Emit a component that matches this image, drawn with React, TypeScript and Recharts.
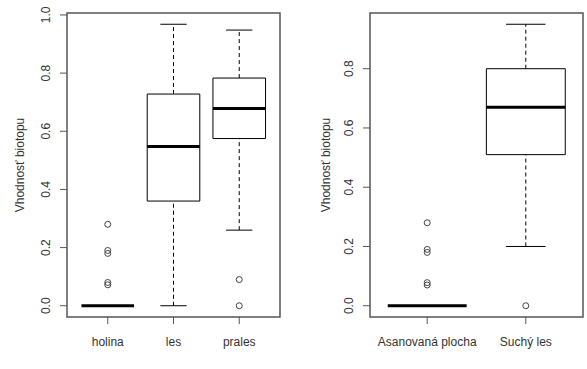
import { ComposedChart, Customized, ReferenceArea, ReferenceLine, Scatter, XAxis, YAxis } from "recharts";

// left panel: habitat type
const habitatNames = ["holina", "les", "prales"];
const habitatMin = [0, 0, 0.26];
const habitatQ1 = [0, 0.36, 0.575];
const habitatMedian = [0, 0.548, 0.678];
const habitatQ3 = [0, 0.728, 0.783];
const habitatMax = [0, 0.968, 0.948];
const habitatOutliers = [[0.28, 0.19, 0.18, 0.08, 0.072], [], [0.09, 0]];
const habitatTicks = [0, 0.2, 0.4, 0.6, 0.8, 1.0];

// right panel: stand type
const standNames = ["Asanovaná plocha", "Suchý les"];
const standMin = [0, 0.2];
const standQ1 = [0, 0.51];
const standMedian = [0, 0.67];
const standQ3 = [0, 0.8];
const standMax = [0, 0.95];
const standOutliers = [[0.28, 0.19, 0.18, 0.078, 0.07], [0]];
const standTicks = [0, 0.2, 0.4, 0.6, 0.8];

const yLabel = "Vhodnosť biotopu";
const textColor = "#333";
const frameColor = "#555";

interface BoxPanelProps {
   names: string[];
   min: number[];
   q1: number[];
   median: number[];
   q3: number[];
   max: number[];
   outliers: number[][];
   yTicks: number[];
   width: number;
   yAxisWidth: number;
   rightMargin: number;
   labelX: number;
}

function BoxPanel({ names, min, q1, median, q3, max, outliers, yTicks, width, yAxisWidth, rightMargin, labelX }: BoxPanelProps) {
   const n = names.length;
   const values = [...min, ...max, ...outliers.flat()];
   const lo = Math.min(...values);
   const hi = Math.max(...values);
   const pad = (hi - lo) * 0.04;
   const yDomain = [lo - pad, hi + pad];
   const xDomain = [0.5 - 0.04 * n, n + 0.5 + 0.04 * n];
   const points = outliers.flatMap((vals, i) => vals.map((v) => ({ x: i + 1, y: v })));

   const boxes = names.map((_, i) => (
      <ReferenceArea
         key={`box-${i}`}
         x1={i + 1 - 0.4}
         x2={i + 1 + 0.4}
         y1={q1[i]}
         y2={q3[i]}
         fill="#fff"
         fillOpacity={1}
         stroke="#000"
         strokeWidth={1}
         ifOverflow="visible"
      />
   ));
   const upperWhiskers = names.map((_, i) => (
      <ReferenceLine
         key={`uw-${i}`}
         segment={[{ x: i + 1, y: q3[i] }, { x: i + 1, y: max[i] }]}
         stroke="#000"
         strokeDasharray="4 3"
         ifOverflow="visible"
      />
   ));
   const lowerWhiskers = names.map((_, i) => (
      <ReferenceLine
         key={`lw-${i}`}
         segment={[{ x: i + 1, y: min[i] }, { x: i + 1, y: q1[i] }]}
         stroke="#000"
         strokeDasharray="4 3"
         ifOverflow="visible"
      />
   ));
   const upperCaps = names.map((_, i) => (
      <ReferenceLine
         key={`uc-${i}`}
         segment={[{ x: i + 1 - 0.2, y: max[i] }, { x: i + 1 + 0.2, y: max[i] }]}
         stroke="#000"
         ifOverflow="visible"
      />
   ));
   const lowerCaps = names.map((_, i) => (
      <ReferenceLine
         key={`lc-${i}`}
         segment={[{ x: i + 1 - 0.2, y: min[i] }, { x: i + 1 + 0.2, y: min[i] }]}
         stroke="#000"
         ifOverflow="visible"
      />
   ));
   const medians = names.map((_, i) => (
      <ReferenceLine
         key={`med-${i}`}
         segment={[{ x: i + 1 - 0.4, y: median[i] }, { x: i + 1 + 0.4, y: median[i] }]}
         stroke="#000"
         strokeWidth={3}
         ifOverflow="visible"
      />
   ));

   const renderYTick = (props: any) => {
      const { x, y, payload } = props;
      return (
         <text x={x} y={y} transform={`rotate(-90, ${x}, ${y})`} textAnchor="middle" fill={textColor} fontSize={12}>
            {Number(payload.value).toFixed(1)}
         </text>
      );
   };

   const AxisTitle = () => (
      <text x={labelX} y={165} transform={`rotate(-90, ${labelX}, 165)`} textAnchor="middle" fill={textColor} fontSize={12}>
         {yLabel}
      </text>
   );

   return (
      <ComposedChart width={width} height={369} margin={{ top: 13, right: rightMargin, bottom: 12, left: 0 }}>
         <XAxis
            type="number"
            dataKey="x"
            domain={xDomain}
            ticks={names.map((_, i) => i + 1)}
            tickFormatter={(v: number) => names[v - 1]}
            interval={0}
            allowDataOverflow
            axisLine={false}
            tickSize={7}
            tickMargin={13}
            tickLine={{ stroke: frameColor }}
            tick={{ fill: textColor, fontSize: 12 }}
            height={40}
         />
         <YAxis
            type="number"
            dataKey="y"
            domain={yDomain}
            ticks={yTicks}
            interval={0}
            allowDataOverflow
            axisLine={false}
            tickSize={7}
            tickMargin={10}
            tickLine={{ stroke: frameColor }}
            tick={renderYTick}
            width={yAxisWidth}
         />
         <ReferenceArea
            x1={xDomain[0]}
            x2={xDomain[1]}
            y1={yDomain[0]}
            y2={yDomain[1]}
            fill="none"
            stroke={frameColor}
            strokeWidth={1.5}
            ifOverflow="visible"
         />
         {upperWhiskers}
         {lowerWhiskers}
         {boxes}
         {upperCaps}
         {lowerCaps}
         {medians}
         <Scatter
            data={points}
            isAnimationActive={false}
            shape={(p: any) => <circle cx={p.cx} cy={p.cy} r={3} fill="none" stroke="#444" strokeWidth={1} />}
         />
         <Customized component={AxisTitle} />
      </ComposedChart>
   );
}

export default function App() {
   return (
      <div
         style={{
            position: "absolute",
            left: 0,
            top: 0,
            width: 587,
            height: 369,
            background: "#fff",
            display: "flex",
            fontFamily: "'Liberation Sans', Arial, sans-serif",
         }}
      >
         <BoxPanel
            names={habitatNames}
            min={habitatMin}
            q1={habitatQ1}
            median={habitatMedian}
            q3={habitatQ3}
            max={habitatMax}
            outliers={habitatOutliers}
            yTicks={habitatTicks}
            width={290}
            yAxisWidth={67}
            rightMargin={10}
            labelX={24}
         />
         <BoxPanel
            names={standNames}
            min={standMin}
            q1={standQ1}
            median={standMedian}
            q3={standQ3}
            max={standMax}
            outliers={standOutliers}
            yTicks={standTicks}
            width={297}
            yAxisWidth={80}
            rightMargin={4}
            labelX={40}
         />
      </div>
   );
}
